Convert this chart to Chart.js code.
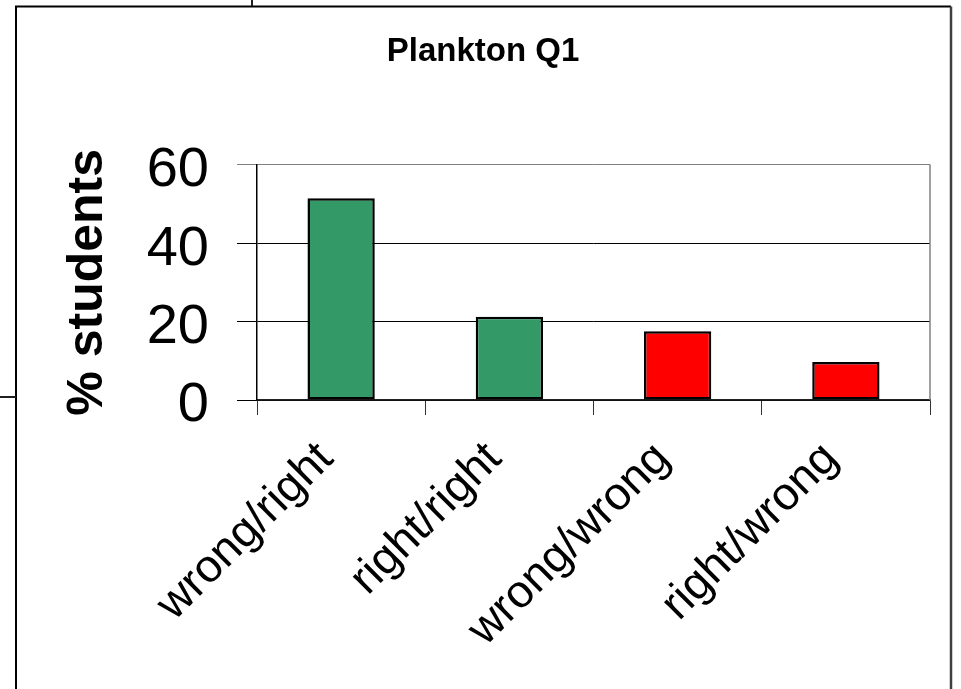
<!DOCTYPE html>
<html>
<head>
<meta charset="utf-8">
<script src="https://cdn.jsdelivr.net/npm/chart.js@4/dist/chart.umd.min.js"></script>
<style>
  html, body { margin: 0; padding: 0; background: #ffffff; }
  #wrap { width: 961px; height: 689px; position: relative; }
  canvas { display: block; }
</style>
</head>
<body>
<div id="wrap"><canvas id="chart" width="961" height="689"></canvas></div>
<script>
// Answer pairs and the share of students giving each
const categories = ['wrong/right', 'right/right', 'wrong/wrong', 'right/wrong'];
const percentStudents = [51.4, 21.2, 17.5, 9.7];
const yTicks = [0, 20, 40, 60];

const GREEN = '#339966';
const RED = '#ff0000';
const barColors = [GREEN, GREEN, RED, RED];

Chart.defaults.font.family = '"Liberation Sans", Arial, sans-serif';
Chart.defaults.color = '#000000';

// Slide frame around the chart plus the gray plot-area edge
const framePlugin = {
  id: 'frame',
  beforeDatasetsDraw(chart) {
    const { ctx, chartArea } = chart;
    ctx.save();
    ctx.strokeStyle = '#808080';
    ctx.lineWidth = 1.5;
    ctx.beginPath();
    ctx.moveTo(chartArea.right, chartArea.top);
    ctx.lineTo(chartArea.right, chartArea.bottom);
    ctx.stroke();
    ctx.restore();
  },
  afterDraw(chart) {
    const { ctx } = chart;
    ctx.save();
    ctx.strokeStyle = '#000000';
    ctx.lineWidth = 2;
    ctx.beginPath();
    ctx.moveTo(16, 700);
    ctx.lineTo(16, 6.5);
    ctx.lineTo(951, 6.5);
    ctx.stroke();
    ctx.strokeStyle = '#404040';
    ctx.lineWidth = 2.5;
    ctx.beginPath();
    ctx.moveTo(951, 6.5);
    ctx.lineTo(951, 700);
    ctx.stroke();
    ctx.strokeStyle = '#202020';
    ctx.lineWidth = 2;
    ctx.beginPath();
    ctx.moveTo(252, 0);
    ctx.lineTo(252, 6);
    ctx.moveTo(0, 397);
    ctx.lineTo(16, 397);
    ctx.stroke();
    ctx.restore();
  }
};

new Chart(document.getElementById('chart'), {
  type: 'bar',
  data: {
    labels: categories,
    datasets: [{
      data: percentStudents,
      backgroundColor: barColors,
      borderColor: '#000000',
      borderWidth: 2.5,
      borderSkipped: false,
      categoryPercentage: 1.0,
      barPercentage: 0.4
    }]
  },
  options: {
    responsive: false,
    animation: false,
    layout: { padding: { top: 0, left: 36, right: 31, bottom: 0 } },
    plugins: {
      legend: { display: false },
      tooltip: { enabled: false },
      title: {
        display: true,
        text: 'Plankton Q1',
        color: '#000000',
        font: { size: 33, weight: 'bold' },
        padding: { top: 32, bottom: 93 }
      }
    },
    scales: {
      x: {
        offset: true,
        grid: {
          offset: true,
          drawOnChartArea: false,
          drawTicks: true,
          tickLength: 15,
          color: '#333333',
          lineWidth: 1
        },
        border: { display: true, color: '#222222', width: 1.5 },
        ticks: {
          color: '#000000',
          font: { size: 46 },
          minRotation: 45,
          maxRotation: 45,
          autoSkip: false,
          padding: 17,
          labelOffset: -15
        },
        afterFit(scale) { scale.height = 289; }
      },
      y: {
        min: 0,
        max: 60,
        afterBuildTicks(scale) { scale.ticks = yTicks.map(v => ({ value: v })); },
        grid: {
          color: ctx => (ctx.tick && ctx.tick.value === 60) ? '#808080' : '#000000',
          lineWidth: 1,
          tickLength: 20
        },
        border: { display: true, color: '#000000', width: 1.5 },
        ticks: {
          color: '#000000',
          font: { size: 56 },
          padding: 28,
          labelOffset: 6
        },
        title: {
          display: true,
          text: '% students',
          color: '#000000',
          font: { size: 50, weight: 'bold' },
          padding: { top: 22, bottom: 0 }
        },
        afterFit(scale) { scale.width = 221; }
      }
    }
  },
  plugins: [framePlugin]
});
</script>
</body>
</html>
